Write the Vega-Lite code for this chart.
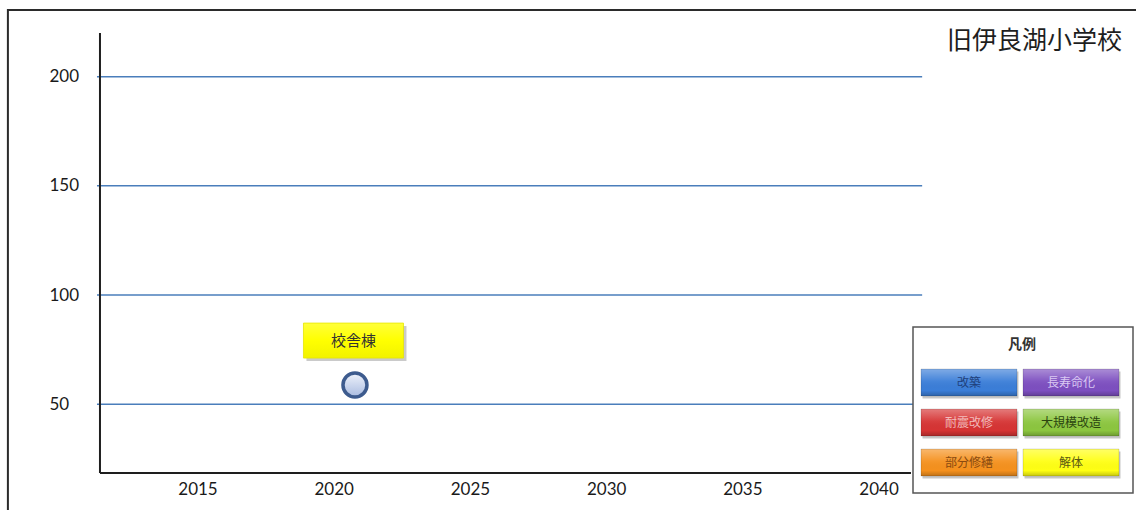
{
  "$schema": "https://vega.github.io/schema/vega-lite/v6.json",
  "width": 1136,
  "height": 510,
  "autosize": {"type": "none"},
  "padding": 0,
  "background": "white",
  "config": {"view": {"stroke": null}},
  "title": {
    "text": "旧伊良湖小学校",
    "orient": "top",
    "anchor": "end",
    "frame": "group",
    "offset": 0,
    "baseline": "middle",
    "dy": 66,
    "dx": -14,
    "font": "Noto Sans CJK JP",
    "fontSize": 25,
    "fontWeight": "normal",
    "color": "#1e1e1e"
  },
  "datasets": {
    "grid": [{"value": 50}, {"value": 100}, {"value": 150}, {"value": 200}],
    "buildings": [{"name": "校舎棟", "year": 2020.78, "value": 58.8}],
    "legend": [
      {"item": "改築", "col": 1, "row": 1},
      {"item": "長寿命化", "col": 2, "row": 1},
      {"item": "耐震改修", "col": 1, "row": 2},
      {"item": "大規模改造", "col": 2, "row": 2},
      {"item": "部分修繕", "col": 1, "row": 3},
      {"item": "解体", "col": 2, "row": 3}
    ]
  },
  "layer": [
    {
      "layer": [
        {
          "data": {"values": [{}]},
          "mark": {"type": "rect", "fillOpacity": 0, "stroke": "#2b2b2b", "strokeWidth": 2},
          "encoding": {
            "x": {
              "datum": 2008.04, "type": "quantitative",
              "scale": {"domain": [2007.75, 2049.45], "nice": false, "zero": false},
              "axis": {
                "orient": "bottom", "offset": -38, "values": [2015, 2020, 2025, 2030, 2035, 2040],
                "format": "d", "domain": false, "ticks": false, "grid": false, "title": null,
                "labelPadding": 9, "labelFont": "Lato", "labelFontSize": 17, "labelColor": "#1a1a1a",
                "labelOverlap": false
              }
            },
            "x2": {"datum": 2055},
            "y": {
              "datum": 230.5, "type": "quantitative",
              "scale": {"domain": [1.6, 235.1], "nice": false, "zero": false},
              "axis": {
                "orient": "left", "offset": -99, "values": [50, 100, 150, 200],
                "domain": false, "ticks": false, "grid": false, "title": null,
                "labelAlign": "left", "labelPadding": 50,
                "labelFont": "Lato", "labelFontSize": 17, "labelColor": "#1a1a1a",
                "labelOverlap": false
              }
            },
            "y2": {"datum": -20}
          }
        },
        {
          "data": {"name": "grid"},
          "mark": {"type": "rule", "stroke": "#4a7ebb", "strokeWidth": 1.5},
          "encoding": {
            "y": {"field": "value", "type": "quantitative"},
            "x": {"datum": 2011.31, "type": "quantitative"},
            "x2": {"datum": 2041.6}
          }
        },
        {
          "data": {"values": [{}]},
          "mark": {"type": "rule", "stroke": "#1e1e1e", "strokeWidth": 2},
          "encoding": {
            "x": {"datum": 2011.42, "type": "quantitative"},
            "y": {"datum": 220.0, "type": "quantitative"},
            "y2": {"datum": 18.5}
          }
        },
        {
          "data": {"values": [{}]},
          "mark": {"type": "rule", "stroke": "#1e1e1e", "strokeWidth": 2},
          "encoding": {
            "x": {"datum": 2011.42, "type": "quantitative"},
            "x2": {"datum": 2041.19},
            "y": {"datum": 18.5, "type": "quantitative"}
          }
        },
        {
          "data": {"name": "buildings"},
          "mark": {
            "type": "point", "shape": "circle", "size": 576, "filled": true, "opacity": 1,
            "fill": {"gradient": "linear", "x1": 0, "y1": 0, "x2": 0, "y2": 1,
              "stops": [{"offset": 0, "color": "#eef2fb"}, {"offset": 1, "color": "#a9bbe0"}]},
            "stroke": "#3d5b8e", "strokeWidth": 3.5
          },
          "encoding": {
            "x": {"field": "year", "type": "quantitative"},
            "y": {"field": "value", "type": "quantitative"}
          }
        },
        {
          "data": {"name": "buildings"},
          "mark": {
            "type": "point", "shape": "M-1,-0.35H1V0.35H-1Z", "size": 10000, "filled": true,
            "fill": "#7a7a7a", "opacity": 0.4, "xOffset": 1.5, "yOffset": -41.5
          },
          "encoding": {
            "x": {"field": "year", "type": "quantitative"},
            "y": {"field": "value", "type": "quantitative"}
          }
        },
        {
          "data": {"name": "buildings"},
          "mark": {
            "type": "point", "shape": "M-1,-0.35H1V0.35H-1Z", "size": 10000, "filled": true, "opacity": 1,
            "fill": {"gradient": "linear", "x1": 0, "y1": 0, "x2": 0, "y2": 1,
              "stops": [{"offset": 0, "color": "#ffff3a"}, {"offset": 0.5, "color": "#ffff00"}, {"offset": 1, "color": "#f2f200"}]},
            "stroke": "#e6e600", "strokeWidth": 0.8,
            "xOffset": -1.5, "yOffset": -44.5
          },
          "encoding": {
            "x": {"field": "year", "type": "quantitative"},
            "y": {"field": "value", "type": "quantitative"}
          }
        },
        {
          "data": {"name": "buildings"},
          "mark": {
            "type": "text", "font": "Noto Sans CJK JP", "fontSize": 15, "color": "#333333",
            "align": "center", "baseline": "middle", "xOffset": -1.5, "yOffset": -44.5
          },
          "encoding": {
            "x": {"field": "year", "type": "quantitative"},
            "y": {"field": "value", "type": "quantitative"},
            "text": {"field": "name"}
          }
        }
      ]
    },
    {
      "data": {"name": "legend"},
      "layer": [
        {
          "transform": [{"filter": "datum.col == 1 && datum.row == 1"}],
          "mark": {
            "type": "point", "shape": "M-1,-0.7545H1V0.7545H-1Z", "size": 48400, "filled": true, "opacity": 1,
            "fill": "white", "stroke": "#555555", "strokeWidth": 1.5, "xOffset": 54, "yOffset": 27.5
          },
          "encoding": {
            "x": {"field": "col", "type": "ordinal", "scale": {"type": "point", "range": [969, 1071], "padding": 0}, "axis": null},
            "y": {"field": "row", "type": "ordinal", "scale": {"type": "point", "range": [382.5, 462.5], "padding": 0}, "axis": null}
          }
        },
        {
          "transform": [{"filter": "datum.col == 1 && datum.row == 1"}],
          "mark": {
            "type": "text", "font": "Noto Sans CJK JP", "fontSize": 14, "fontWeight": "bold", "color": "#333333",
            "align": "center", "baseline": "middle", "xOffset": 53, "yOffset": -37.5
          },
          "encoding": {
            "x": {"field": "col", "type": "ordinal", "axis": null},
            "y": {"field": "row", "type": "ordinal", "axis": null},
            "text": {"value": "凡例"}
          }
        },
        {
          "mark": {
            "type": "point", "shape": "M-1,-0.28H1V0.28H-1Z", "size": 9216, "filled": true,
            "fill": "#000000", "opacity": 0.22, "xOffset": 1.5, "yOffset": 2.5
          },
          "encoding": {
            "x": {"field": "col", "type": "ordinal", "axis": null},
            "y": {"field": "row", "type": "ordinal", "axis": null}
          }
        },
        {
          "mark": {"type": "point", "shape": "M-1,-0.28H1V0.28H-1Z", "size": 9216, "filled": true, "opacity": 1},
          "encoding": {
            "x": {"field": "col", "type": "ordinal", "axis": null},
            "y": {"field": "row", "type": "ordinal", "axis": null},
            "fill": {
              "field": "item", "type": "nominal", "legend": null,
              "scale": {
                "domain": ["改築", "長寿命化", "耐震改修", "大規模改造", "部分修繕", "解体"],
                "range": ["#3b7ed8", "#7d4fc0", "#d63434", "#8cc63f", "#f5911e", "#ffff14"]
              }
            }
          }
        },
        {
          "mark": {
            "type": "point", "shape": "M-1,-0.28H1V0.28H-1Z", "size": 9216, "filled": true, "opacity": 1,
            "fill": {"gradient": "linear", "x1": 0, "y1": 0, "x2": 0, "y2": 1,
              "stops": [
                {"offset": 0, "color": "rgba(255,255,255,0.35)"},
                {"offset": 0.45, "color": "rgba(255,255,255,0.05)"},
                {"offset": 0.8, "color": "rgba(0,0,0,0.0)"},
                {"offset": 1, "color": "rgba(0,0,0,0.22)"}
              ]},
            "stroke": "rgba(0,0,0,0.18)", "strokeWidth": 0.8
          },
          "encoding": {
            "x": {"field": "col", "type": "ordinal", "axis": null},
            "y": {"field": "row", "type": "ordinal", "axis": null}
          }
        },
        {
          "mark": {"type": "text", "font": "Noto Sans CJK JP", "fontSize": 12, "align": "center", "baseline": "middle", "yOffset": 0.5},
          "encoding": {
            "x": {"field": "col", "type": "ordinal", "axis": null},
            "y": {"field": "row", "type": "ordinal", "axis": null},
            "text": {"field": "item"},
            "color": {
              "field": "item", "type": "nominal", "legend": null,
              "scale": {
                "domain": ["改築", "長寿命化", "耐震改修", "大規模改造", "部分修繕", "解体"],
                "range": ["#1e3f7a", "#d9c8f2", "#f2bcbc", "#2b4410", "#8a4a10", "#5a5a14"]
              }
            }
          }
        }
      ]
    }
  ],
  "resolve": {"scale": {"x": "independent", "y": "independent"}}
}
